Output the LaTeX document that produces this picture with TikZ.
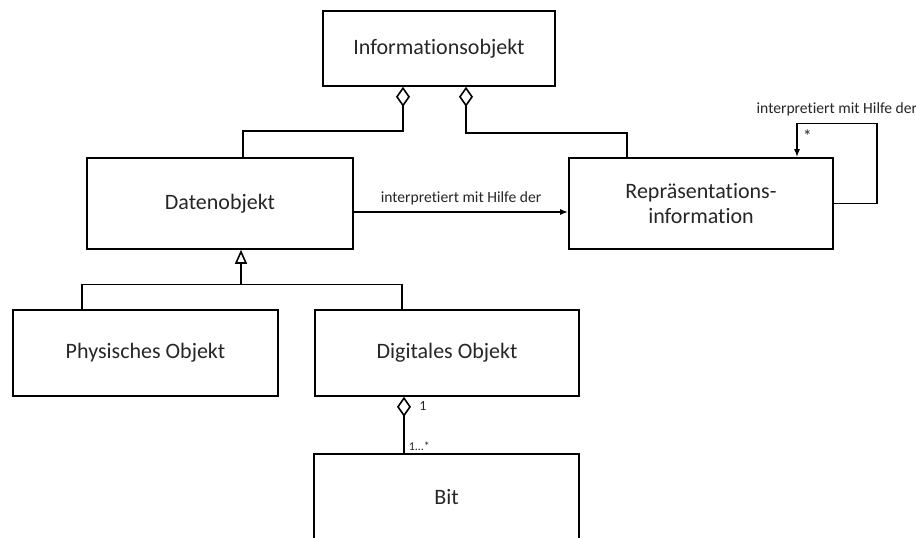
\documentclass[tikz,border=0pt]{standalone}
\usepackage{fontspec}
\setmainfont{Carlito}[Ligatures=NoCommon]
\usepackage{tikz}
\usetikzlibrary{arrows.meta}

\begin{document}
\begin{tikzpicture}[x=0.5pt,y=-0.5pt,>={Latex[length=4pt,width=3pt]},line width=0.8pt,
	box/.style={rectangle,draw,inner sep=2pt,align=center},
	agg/.style={{Diamond[open,length=10pt,width=7pt]}-},
	gen/.style={{Triangle[open,length=7pt,width=6pt]}-}]
	\tikzstyle{every node}=[font=\fontsize{11}{12.5}\selectfont,text=black!85]
	\useasboundingbox (0,0) rectangle (916,537);
	\draw
		(439,48.5)   node(info) [box, minimum width=116pt, minimum height=37.5pt] {Informationsobjekt}
		(220,203.5)  node(daten) [box, minimum width=133pt, minimum height=45.5pt] {Datenobjekt}
		(701,203.5)  node(repr) [box, minimum width=132pt, minimum height=45.5pt] {Repräsentations-\\information}
		(145.5,353)  node(phys) [box, minimum width=132.5pt, minimum height=43pt] {Physisches Objekt}
		(447,353)    node(digi) [box, minimum width=132pt, minimum height=43pt] {Digitales Objekt}
		(446.5,497)  node(bit) [box, minimum width=132.5pt, minimum height=43pt] {Bit};

	\tikzstyle{every node}=[font=\fontsize{7.8}{9}\selectfont,text=black!85]
	\draw [agg] ([xshift=-18pt]info.south) -- ++(0,44) -| ([xshift=11.5pt]daten.north);
	\draw [agg] ([xshift=13.5pt]info.south) -- ++(0,46) -| ([xshift=-37pt]repr.north);
	\draw [->] ([yshift=-4.25pt]daten.east) -- node[above] {interpretiert mit Hilfe der} ([yshift=-4.25pt]repr.west);
	\draw [->] (repr.east) -- ++(43,0) -- ++(0,-80)
		-| node[pos=0.25,above] {interpretiert mit Hilfe der}
		   node[pos=0.5,below right,inner sep=2.5pt,font=\fontsize{9}{9}\selectfont] {*} ([xshift=48pt]repr.north);
	\draw [gen] ([xshift=10.5pt]daten.south) -- ++(0,34.5) coordinate(g);
	\draw (g) -| ([xshift=-31.75pt]phys.north);
	\draw (g) -| ([xshift=-22.5pt]digi.north);
	\draw [agg] ([xshift=-21.5pt]digi.south) -- node[pos=0.17,right=4pt,font=\fontsize{7}{8}\selectfont] {1}
		node[pos=1,anchor=south west,inner sep=1pt,xshift=1pt,font=\fontsize{6}{7}\selectfont] {1...*} ([xshift=-21.25pt]bit.north);
\end{tikzpicture}
\end{document}
